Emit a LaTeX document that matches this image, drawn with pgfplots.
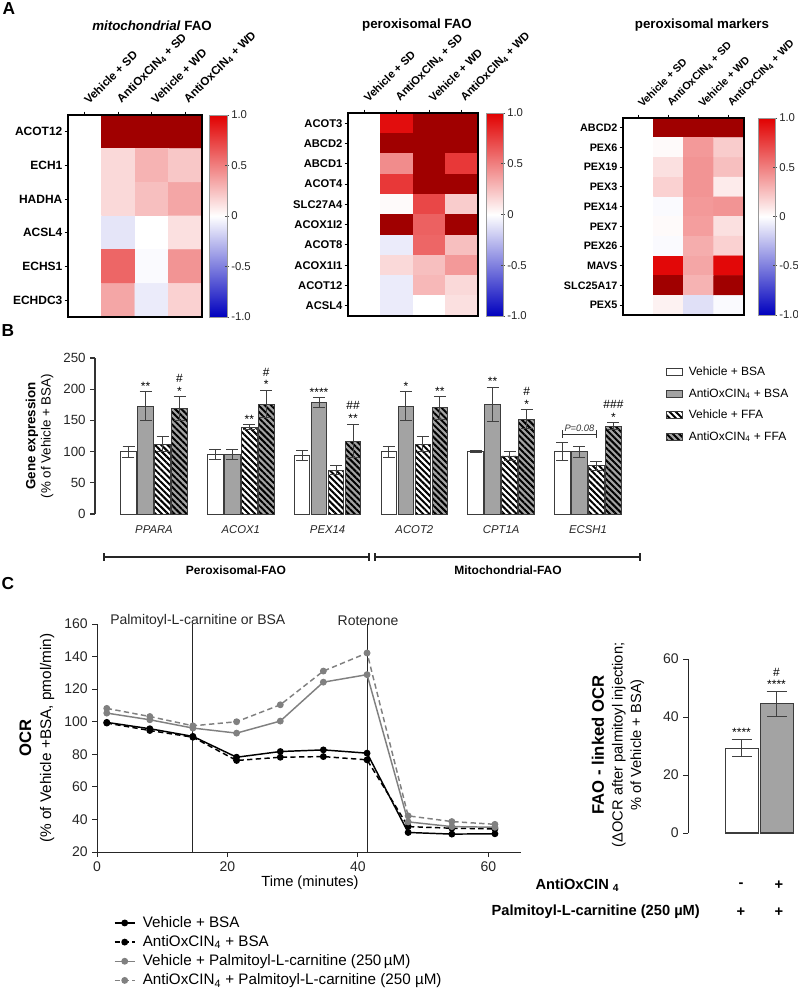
\documentclass[border=0pt]{standalone}
\usepackage{fontspec}
\setmainfont{Liberation Sans}
\usepackage{pgfplots}
\pgfplotsset{compat=1.18}
\usetikzlibrary{patterns.meta}

\definecolor{barGray}{RGB}{163,163,163}
\definecolor{barEdge}{RGB}{60,60,60}
\definecolor{lineGray}{RGB}{128,128,128}

\tikzset{
  ann/.style={font=\fontsize{9}{9.5}\selectfont, align=center, anchor=south, inner sep=1pt},
  hatch/.style={pattern={Lines[angle=-45, distance=3.3pt, line width=1.5pt]}, pattern color=black},
}

\pgfplotsset{
  /pgf/number format/assume math mode=true,
  colormap={hm}{rgb255(0cm)=(0,0,190); rgb255(10cm)=(255,255,255); rgb255(20cm)=(225,0,0)},
  colormap={hmx}{rgb255(0cm)=(0,0,190); rgb255(10cm)=(255,255,255); rgb255(20cm)=(225,0,0); rgb255(21cm)=(160,0,0); rgb255(22cm)=(160,0,0)},
  hmap/.style 2 args={
    scale only axis, anchor=north west, axis on top,
    colormap name=hmx, point meta min=-1, point meta max=1.2,
    enlargelimits=false, xmin=-0.5, xmax=3.5, ymin=-0.5, y dir=reverse,
    axis line style={line width=1pt},
    xtick={0,1,2,3},
    xticklabels={Vehicle + SD, AntiOxCIN\textsubscript{4} + SD, Vehicle + WD, AntiOxCIN\textsubscript{4} + WD},
    xtick pos=right, xticklabel pos=right, ytick pos=left,
    tick align=outside, major tick length=2.5pt,
    tick style={black, line width=0.7pt},
    xticklabel style={rotate=45, anchor=south west, font=\fontsize{#1}{9}\selectfont\bfseries, inner sep=1pt, xshift=4.8pt, yshift=0pt},
    yticklabel style={font=\fontsize{#2}{10}\selectfont\bfseries, inner sep=1.5pt},
  },
  cbar/.style 2 args={
    hide axis, scale only axis, anchor=north west, width=#1, height=#2,
    xmin=0, xmax=1, ymin=0, ymax=1,
    colormap name=hm, point meta min=-1, point meta max=1,
    colorbar, colorbar shift/.style={xshift=0pt},
    colorbar style={
      at={(parent axis.north west)}, anchor=north west, width=#1, height=#2,
      ytick={-1,-0.5,0,0.5,1}, yticklabels={-1.0,-0.5,0,0.5,1.0},
      ytick pos=right, yticklabel pos=right, tick align=center, major tick length=3pt,
      tick style={black!70, line width=0.6pt},
      axis line style={draw=black!40, line width=0.3pt},
      yticklabel style={font=\fontsize{8.5}{10}\selectfont, text=black!85, inner sep=1.5pt},
    },
  },
  eb/.style={error bars/y dir=both, error bars/y explicit,
    error bars/error bar style={line width=0.7pt, black!75},
    error bars/error mark options={rotate=90, mark size=#1, line width=0.7pt, black!75}},
}

\begin{document}
\begin{tikzpicture}
\path[use as bounding box] (0,0) rectangle (598.5pt,-744.75pt);

% ================= A: mitochondrial FAO
\begin{axis}[hmap={8.7}{9}, at={(51pt,-86.25pt)}, width=100.5pt, height=151.5pt, ymax=5.5,
  ytick={0,...,5}, yticklabels={ACOT12,ECH1,HADHA,ACSL4,ECHS1,ECHDC3}]
\addplot[matrix plot*, mesh/cols=4, point meta=explicit] table[meta=c]{
x y c
0 0 0
1 0 1.2
2 0 1.2
3 0 1.2
0 1 0
1 1 0.15
2 1 0.30
3 1 0.22
0 2 0
1 2 0.15
2 2 0.25
3 2 0.35
0 3 0
1 3 -0.10
2 3 0.00
3 3 0.12
0 4 0
1 4 0.60
2 4 -0.02
3 4 0.42
0 5 0
1 5 0.35
2 5 -0.08
3 5 0.18
};
\end{axis}
\begin{axis}[cbar={13.5pt}{151.5pt}, at={(156.75pt,-86.25pt)}]
\addplot[draw=none] coordinates {(0.5,0.5)};
\end{axis}

% ================= A: peroxisomal FAO
\begin{axis}[hmap={8.4}{8.4}, at={(261pt,-84.75pt)}, width=97.5pt, height=152.25pt, ymax=9.5,
  ytick={0,...,9}, yticklabels={ACOT3,ABCD2,ABCD1,ACOT4,SLC27A4,ACOX1I2,ACOT8,ACOX1I1,ACOT12,ACSL4}]
\addplot[matrix plot*, mesh/cols=4, point meta=explicit] table[meta=c]{
x y c
0 0 0
1 0 0.95
2 0 1.2
3 0 1.2
0 1 0
1 1 1.2
2 1 1.2
3 1 1.2
0 2 0
1 2 0.45
2 2 1.2
3 2 0.78
0 3 0
1 3 0.78
2 3 1.2
3 3 1.2
0 4 0
1 4 0.02
2 4 0.72
3 4 0.20
0 5 0
1 5 1.2
2 5 0.62
3 5 1.2
0 6 0
1 6 -0.08
2 6 0.60
3 6 0.25
0 7 0
1 7 0.15
2 7 0.25
3 7 0.40
0 8 0
1 8 -0.08
2 8 0.28
3 8 0.15
0 9 0
1 9 -0.08
2 9 0.00
3 9 0.12
};
\end{axis}
\begin{axis}[cbar={12.75pt}{152.25pt}, at={(364.5pt,-84.75pt)}]
\addplot[draw=none] coordinates {(0.5,0.5)};
\end{axis}

% ================= A: peroxisomal markers
\begin{axis}[hmap={8}{8.1}, at={(467.25pt,-88.5pt)}, width=90.75pt, height=147.75pt, ymax=9.5,
  ytick={0,...,9}, yticklabels={ABCD2,PEX6,PEX19,PEX3,PEX14,PEX7,PEX26,MAVS,SLC25A17,PEX5}]
\addplot[matrix plot*, mesh/cols=4, point meta=explicit] table[meta=c]{
x y c
0 0 0
1 0 1.2
2 0 1.2
3 0 1.2
0 1 0
1 1 0.02
2 1 0.40
3 1 0.20
0 2 0
1 2 0.12
2 2 0.42
3 2 0.25
0 3 0
1 3 0.18
2 3 0.42
3 3 0.08
0 4 0
1 4 -0.02
2 4 0.40
3 4 0.42
0 5 0
1 5 0.02
2 5 0.38
3 5 0.12
0 6 0
1 6 -0.02
2 6 0.32
3 6 0.18
0 7 0
1 7 0.97
2 7 0.35
3 7 0.97
0 8 0
1 8 1.2
2 8 0.30
3 8 1.2
0 9 0
1 9 0.05
2 9 -0.12
3 9 -0.02
};
\end{axis}
\begin{axis}[cbar={12.75pt}{147.75pt}, at={(568.5pt,-88.5pt)}]
\addplot[draw=none] coordinates {(0.5,0.5)};
\end{axis}

% ================= B: gene expression
\begin{axis}[at={(71.25pt,-385.5pt)}, anchor=south west, scale only axis,
  width=399pt, height=117pt,
  xmin=-0.68, xmax=5.45, ymin=0, ymax=250,
  axis lines*=left,
  x axis line style={draw=none},
  y axis line style={line width=0.8pt, black!80},
  xtick={0,1,2,3,4,5},
  xticklabels={PPARA, ACOX1, PEX14, ACOT2, CPT1A, ECSH1},
  xticklabel style={font=\fontsize{8.5}{10}\selectfont\itshape, text=black!85, yshift=-2pt},
  xtick style={draw=none},
  ytick={0,50,...,250},
  tick align=outside, major tick length=3.5pt,
  ytick style={black!80, line width=0.8pt},
  yticklabel style={font=\fontsize{10}{12}\selectfont, text=black!85},
  clip=false,
  legend style={at={(1.065,0.976)}, anchor=north west, draw=none, fill=none,
    font=\fontsize{9}{10.5}\selectfont, row sep=5.2pt, column sep=3pt,
    nodes={inner sep=1.5pt}, cells={anchor=west}},
  legend image code/.code={\draw[#1] (0pt,-2.6pt) rectangle (12pt,2.6pt);},
]
\addplot[ybar, bar width=0.178, bar shift=0, fill=white, draw=barEdge, line width=0.7pt, eb=4.5pt]
 coordinates {(-0.294,100) +- (0,9) (0.706,96) +- (0,8) (1.706,94) +- (0,8) (2.706,100) +- (0,9) (3.706,100) +- (0,2) (4.706,100) +- (0,14)};
\addlegendentry{Vehicle + BSA}
\addplot[ybar, bar width=0.178, bar shift=0, fill=barGray, draw=barEdge, line width=0.7pt, eb=4.5pt]
 coordinates {(-0.098,173) +- (0,23) (0.902,96) +- (0,8) (1.902,178) +- (0,8) (2.902,173) +- (0,23) (3.902,176) +- (0,27) (4.902,100) +- (0,9)};
\addlegendentry{AntiOxCIN\textsubscript{4} + BSA}
\addplot[ybar, bar width=0.178, bar shift=0, preaction={fill=white}, hatch, draw=barEdge, line width=0.7pt, eb=4.5pt]
 coordinates {(0.098,112) +- (0,12) (1.098,139) +- (0,4) (2.098,70) +- (0,7) (3.098,112) +- (0,12) (4.098,93) +- (0,7) (5.098,77) +- (0,8)};
\addlegendentry{Vehicle + FFA}
\addplot[ybar, bar width=0.178, bar shift=0, preaction={fill=barGray}, hatch, draw=barEdge, line width=0.7pt, eb=4.5pt]
 coordinates {(0.294,169) +- (0,19) (1.294,176) +- (0,22) (2.294,117) +- (0,27) (3.294,170) +- (0,18) (4.294,152) +- (0,15) (5.294,141) +- (0,5)};
\addlegendentry{AntiOxCIN\textsubscript{4} + FFA}
\addplot[forget plot, black!80, line width=0.9pt, mark=|, mark size=3pt, mark options={solid, line width=0.9pt}]
 coordinates {(4.706,128) (5.098,128)};
\node[ann] at (axis cs:-0.098,196) {**};
\node[ann] at (axis cs:0.294,188) {\#\\*};
\node[ann] at (axis cs:1.098,143) {**};
\node[ann] at (axis cs:1.294,198) {\#\\*};
\node[ann] at (axis cs:1.902,186) {****};
\node[ann] at (axis cs:2.294,144) {\#\#\\**};
\node[ann] at (axis cs:2.902,196) {*};
\node[ann] at (axis cs:3.294,188) {**};
\node[ann] at (axis cs:3.902,203) {**};
\node[ann] at (axis cs:4.294,167) {\#\\*};
\node[ann] at (axis cs:5.294,146) {\#\#\#\\*};
\node[font=\fontsize{7}{8}\selectfont\itshape, text=black!80, anchor=south, inner sep=1pt] at (axis cs:4.902,130) {P=0.08};
\end{axis}

% ================= C: OCR time course
\begin{axis}[at={(72.75pt,-639pt)}, anchor=south west, scale only axis, width=318pt, height=171pt,
  xmin=0, xmax=65, ymin=20, ymax=160, axis lines*=left,
  axis line style={line width=0.7pt, black!85},
  xtick={0,20,40,60}, ytick={20,40,...,160},
  tick align=outside, major tick length=3.5pt, tick style={line width=0.7pt, black!85},
  ticklabel style={font=\fontsize{10.5}{12}\selectfont, text=black!85},
  clip=false,
  legend style={at={(0.03,-0.261)}, anchor=north west, draw=none, fill=none,
    font=\fontsize{11.4}{13}\selectfont, row sep=1.6pt, column sep=4pt, nodes={inner sep=1.5pt}, cells={anchor=west}},
  legend image code/.code={\draw[mark repeat=2, mark phase=2, #1] plot coordinates {(0pt,0pt) (7.5pt,0pt) (15pt,0pt)};},
]
\addplot[forget plot, black!85, line width=0.6pt] coordinates {(14.7,20) (14.7,160)};
\addplot[forget plot, black!85, line width=0.6pt] coordinates {(41.4,20) (41.4,160)};
\addplot[black, line width=1.1pt, mark=*, mark size=2pt] coordinates {
(1.5,99.6) (8.1,95.7) (14.7,91) (21.4,78.2) (28.1,81.7) (34.7,82.7) (41.4,80.7) (47.7,32) (54.4,31) (61,31.2)};
\addlegendentry{Vehicle + BSA}
\addplot[black, line width=1.1pt, dash pattern=on 4pt off 2.5pt, mark=*, mark size=2pt, mark options={solid}] coordinates {
(1.5,99.2) (8.1,94.6) (14.7,90.5) (21.4,76.2) (28.1,78.2) (34.7,78.6) (41.4,76.6) (47.7,35.6) (54.4,34.6) (61,34.2)};
\addlegendentry{AntiOxCIN\textsubscript{4} + BSA}
\addplot[lineGray, line width=1.1pt, mark=*, mark size=2pt] coordinates {
(1.5,105.3) (8.1,101.2) (14.7,96.1) (21.4,93) (28.1,100.4) (34.7,124.3) (41.4,128.9) (47.7,38.5) (54.4,35.6) (61,35.2)};
\addlegendentry{Vehicle + Palmitoyl-L-carnitine (250\,µM)}
\addplot[lineGray, line width=1.1pt, dash pattern=on 4pt off 2.5pt, mark=*, mark size=2pt, mark options={solid}] coordinates {
(1.5,108.2) (8.1,103.2) (14.7,97.5) (21.4,100) (28.1,110.4) (34.7,131.1) (41.4,142.2) (47.7,42.2) (54.4,38.7) (61,37)};
\addlegendentry{AntiOxCIN\textsubscript{4} + Palmitoyl-L-carnitine (250 µM)}
\end{axis}

% ================= C: FAO-linked OCR bars
\begin{axis}[at={(516pt,-624.75pt)}, anchor=south west, scale only axis, width=81pt, height=130.5pt,
  xmin=-1.53, xmax=1.555, ymin=0, ymax=60, axis lines*=left,
  x axis line style={draw=none}, xtick=\empty,
  y axis line style={line width=0.7pt, black!85},
  ytick={0,20,40,60}, tick align=outside, major tick length=3.5pt, ytick style={line width=0.7pt, black!85},
  yticklabel style={font=\fontsize{10.5}{12}\selectfont, text=black!85},
  clip=false]
\addplot[ybar, bar width=0.943, bar shift=0, fill=white, draw=barEdge, line width=0.8pt, eb=7.5pt]
 coordinates {(0,29.3) +- (0,2.9)};
\addplot[ybar, bar width=0.943, bar shift=0, fill=barGray, draw=barEdge, line width=0.8pt, eb=7.5pt]
 coordinates {(1,44.5) +- (0,4.4)};
\node[ann] at (axis cs:0,32.6) {****};
\node[ann] at (axis cs:1,49.2) {\#\\****};
\end{axis}

% ================= free text
\begin{scope}[x=0.75pt, y=-0.75pt]
\node[font=\fontsize{13}{13}\selectfont\bfseries] at (9,9) {A};
\node[font=\fontsize{13}{13}\selectfont\bfseries] at (8,331) {B};
\node[font=\fontsize{13}{13}\selectfont\bfseries] at (8,584) {C};
\node[font=\fontsize{10}{12}\selectfont\bfseries] at (152,26) {\textit{mitochondrial} FAO};
\node[font=\fontsize{10}{12}\selectfont\bfseries] at (417,25) {peroxisomal FAO};
\node[font=\fontsize{10}{12}\selectfont\bfseries] at (702,25) {peroxisomal markers};
% B
\node[rotate=90, align=center, font=\fontsize{10}{11.5}\selectfont] at (39.5,436) {\textbf{Gene expression}\\(\% of Vehicle + BSA)};
\draw[black!85, line width=0.8pt] (104,557) -- (369,557);
\draw[black!85, line width=0.8pt] (104,553) -- (104,561);
\draw[black!85, line width=0.8pt] (369,553) -- (369,561);
\draw[black!85, line width=0.8pt] (375,557) -- (640,557);
\draw[black!85, line width=0.8pt] (375,553) -- (375,561);
\draw[black!85, line width=0.8pt] (640,553) -- (640,561);
\node[font=\fontsize{9}{10}\selectfont\bfseries] at (236,570) {Peroxisomal-FAO};
\node[font=\fontsize{9}{10}\selectfont\bfseries] at (508,570) {Mitochondrial-FAO};
% C left
\node[rotate=90, align=center, font=\fontsize{11.5}{15}\selectfont] at (37,738) {{\fontsize{12.5}{15}\selectfont\bfseries OCR}\\(\% of Vehicle +BSA, pmol/min)};
\node[anchor=west, font=\fontsize{10.5}{12}\selectfont, text=black!85, inner sep=0pt] at (110,621) {Palmitoyl-L-carnitine or BSA};
\node[font=\fontsize{10.5}{12}\selectfont, text=black!85, inner sep=0pt] at (368,621) {Rotenone};
\node[font=\fontsize{11}{12}\selectfont] at (310,883) {Time (minutes)};
% C right
\node[rotate=90, align=center, font=\fontsize{11}{14}\selectfont] at (618,745) {{\fontsize{12.5}{15}\selectfont\bfseries FAO - linked OCR}\\(ΔOCR after palmitoyl injection;\\\% of Vehicle + BSA)};
\node[anchor=east, font=\fontsize{11}{12}\selectfont\bfseries] at (624,885) {AntiOxCIN \textsubscript{4}};
\node[anchor=west, font=\fontsize{11}{12}\selectfont\bfseries] at (487,912) {Palmitoyl-L-carnitine (250 µM)};
\node[font=\fontsize{11}{12}\selectfont\bfseries] at (741,885) {-};
\node[font=\fontsize{11}{12}\selectfont\bfseries] at (779,885) {+};
\node[font=\fontsize{11}{12}\selectfont\bfseries] at (741,912) {+};
\node[font=\fontsize{11}{12}\selectfont\bfseries] at (779,912) {+};
\end{scope}
\end{tikzpicture}
\end{document}
